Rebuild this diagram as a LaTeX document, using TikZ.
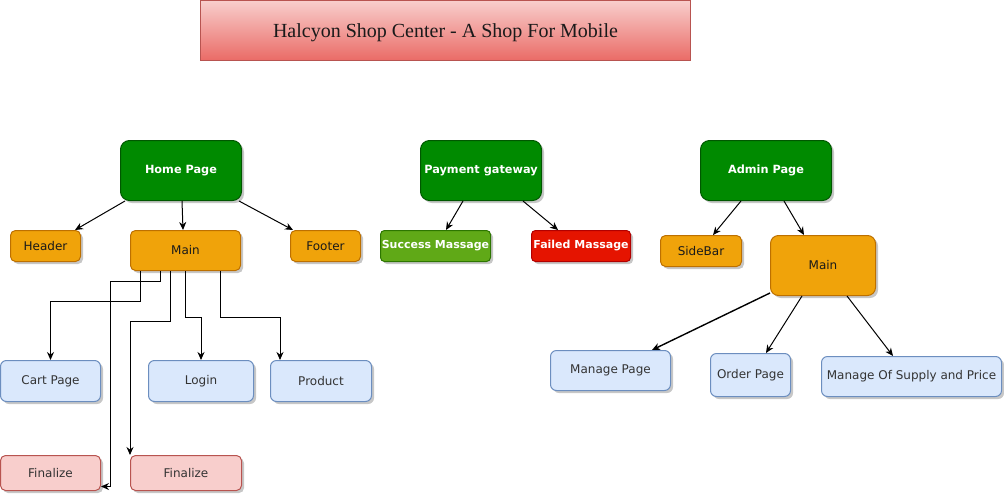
\documentclass[tikz,border=0pt]{standalone}
\usepackage{fontspec}
\setmainfont{DejaVu Sans}
\newfontfamily\titlefont{Liberation Serif}
\usetikzlibrary{arrows.meta,shadows,calc}
\definecolor{gfill}{HTML}{008A00}\definecolor{gline}{HTML}{005700}
\definecolor{ofill}{HTML}{F0A30A}\definecolor{oline}{HTML}{BD7000}
\definecolor{lgfill}{HTML}{60A917}\definecolor{lgline}{HTML}{2D7600}
\definecolor{rfill}{HTML}{E51400}\definecolor{rline}{HTML}{B20000}
\definecolor{bfill}{HTML}{DAE8FC}\definecolor{bline}{HTML}{6C8EBF}
\definecolor{pfill}{HTML}{F8CECC}\definecolor{pline}{HTML}{B85450}
\definecolor{tbot}{HTML}{EA6B66}
\definecolor{txt}{HTML}{1A1A1A}
\definecolor{txtb}{HTML}{333333}
\tikzset{
  base/.style={draw, line width=1pt, inner sep=0pt, anchor=north west, align=center,
    font=\fontsize{12}{14}\selectfont,
    drop shadow={shadow xshift=2.5pt, shadow yshift=-2.5pt, opacity=0.22, fill=black}},
  bigbox/.style={base, fill=gfill, draw=gline, text=white, rounded corners=9pt, font=\fontsize{11.3}{13}\selectfont\bfseries},
  orbox/.style={base, fill=ofill, draw=oline, text=txt, rounded corners=5pt},
  okbox/.style={base, fill=lgfill, draw=lgline, text=white, rounded corners=4pt, font=\fontsize{11}{13}\selectfont\bfseries},
  badbox/.style={base, fill=rfill, draw=rline, text=white, rounded corners=4pt, font=\fontsize{11}{13}\selectfont\bfseries},
  bluebox/.style={base, fill=bfill, draw=bline, text=txtb, rounded corners=6pt},
  pinkbox/.style={base, fill=pfill, draw=pline, text=txtb, rounded corners=5pt},
  arr/.style={draw=black, line width=1pt, -{Stealth[length=8pt,width=7pt]}},
}
\begin{document}
\begin{tikzpicture}[x=1pt,y=-1pt]
\useasboundingbox (0,0) rectangle (1004,496);
% title
\node[draw=pline, line width=1pt, top color=pfill, bottom color=tbot, minimum width=490pt, minimum height=60pt, anchor=north west, inner sep=0pt, text height=14pt, text depth=0pt, text=txt, font=\titlefont\fontsize{20}{24}\selectfont] (title) at (200,0) {Halcyon Shop Center - A Shop For Mobile};
% top level
\node[bigbox, minimum width=121pt, minimum height=60pt] (home) at (120,140) {Home Page};
\node[bigbox, minimum width=121pt, minimum height=60pt] (pay) at (420,140) {Payment gateway};
\node[bigbox, minimum width=131pt, minimum height=60pt] (admin) at (700,140) {Admin Page};
% second level
\node[orbox, minimum width=70pt, minimum height=31pt] (header) at (10,230) {Header};
\node[orbox, minimum width=110pt, minimum height=40pt] (mainL) at (130,230) {Main};
\node[orbox, minimum width=70pt, minimum height=31pt] (footer) at (290,230) {Footer};
\node[okbox, minimum width=110pt, minimum height=31pt] (succ) at (380,230) {Success Massage};
\node[badbox, minimum width=99pt, minimum height=31pt] (fail) at (531,230) {Failed Massage};
\node[orbox, minimum width=81pt, minimum height=31pt] (side) at (660,235) {SideBar};
\node[orbox, rounded corners=8pt, minimum width=105pt, minimum height=60pt] (mainR) at (770,235) {Main};
% third level
\node[bluebox, minimum width=100pt, minimum height=41pt] (cart) at (0,360) {Cart Page};
\node[bluebox, minimum width=105pt, minimum height=41pt] (login) at (148,360) {Login};
\node[bluebox, minimum width=101pt, minimum height=41pt] (product) at (270,360) {Product};
\node[pinkbox, minimum width=100pt, minimum height=35pt] (fin1) at (0,455) {Finalize};
\node[pinkbox, minimum width=111pt, minimum height=35pt] (fin2) at (130,455) {Finalize};
\node[bluebox, minimum width=120pt, minimum height=40pt] (manage) at (550,350) {Manage Page};
\node[bluebox, minimum width=80pt, minimum height=43pt] (order) at (710,353) {Order Page};
\node[bluebox, minimum width=180pt, minimum height=40pt] (supply) at (821,356) {Manage Of Supply and Price};
% connectors
\draw[arr] ([xshift=5pt]home.south west) -- ([xshift=65pt]header.north west);
\draw[arr] ([xshift=62pt]home.south west) -- ([xshift=53pt]mainL.north west);
\draw[arr] ([xshift=-3pt]home.south east) -- ([xshift=3pt]footer.north west);
\draw[arr] ([xshift=43pt]pay.south west) -- ([xshift=66pt]succ.north west);
\draw[arr] ([xshift=-19pt]pay.south east) -- ([xshift=27pt]fail.north west);
\draw[arr] ([xshift=41pt]admin.south west) -- ([xshift=53pt]side.north west);
\draw[arr] ([xshift=84pt]admin.south west) -- ([xshift=34pt]mainR.north west);
\draw[arr, line width=1.4pt] ([yshift=3pt]mainR.south west) -- ([xshift=102pt]manage.north west);
\draw[arr] ([xshift=32pt]mainR.south west) -- ([xshift=56pt]order.north west);
\draw[arr] ([xshift=77pt]mainR.south west) -- ([xshift=72pt]supply.north west);
% orthogonal connectors from left Main
\draw[arr] ([xshift=10pt]mainL.south west) -- ++(0,30) -| (cart.north);
\draw[arr] ([xshift=30pt]mainL.south west) -- ++(0,10) -- ++(-50,0) |- ([yshift=-13.5pt]fin1.east);
\draw[arr] ([xshift=40pt]mainL.south west) -- ++(0,50) -| (fin2.north west);
\draw[arr] ([xshift=55pt]mainL.south west) -- ++(0,46) -| (login.north);
\draw[arr] ([xshift=90pt]mainL.south west) -- ++(0,46) -| ([xshift=10pt]product.north west);
\end{tikzpicture}
\end{document}
